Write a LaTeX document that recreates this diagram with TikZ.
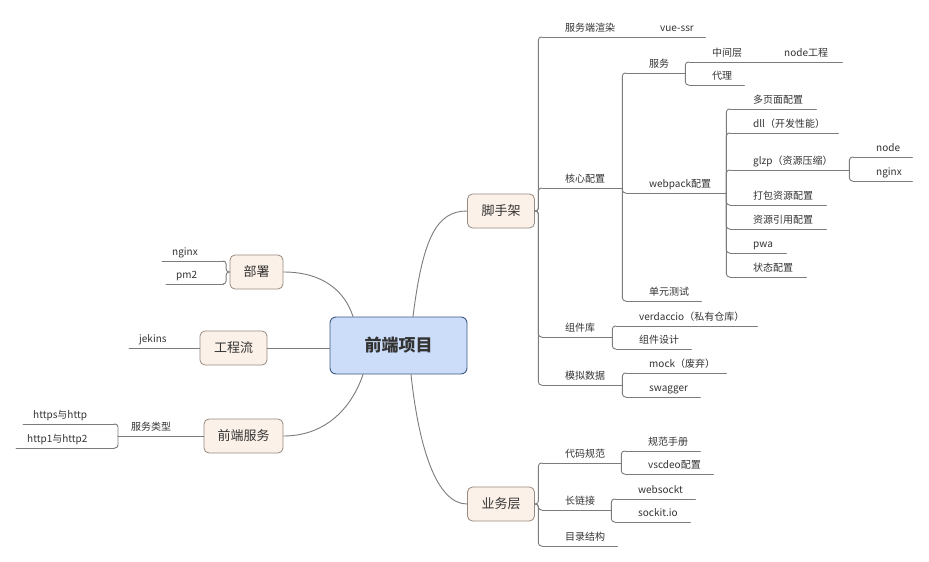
\documentclass[tikz,border=0pt]{standalone}
\usepackage{fontspec}
\setmainfont{Noto Sans CJK SC}
\definecolor{ink}{HTML}{333333}
\definecolor{wire}{HTML}{7C7C7C}
\definecolor{rootfill}{HTML}{CCDDFA}
\definecolor{rootedge}{HTML}{3E5A82}
\definecolor{boxfill}{HTML}{FCF1E8}
\definecolor{boxedge}{HTML}{978A80}

% a subtopic: text sitting on its own underline
% #1 text pad, #2 name, #3 line start x, #4 line end x, #5 line y, #6 text
\newcommand{\Sub}[6][23]{%
  \pgfmathsetmacro\SubW{#4-#3}
  \node[sub, text width=\SubW pt] (#2) at (#3,#5) {\hspace*{#1pt}\mbox{#6}};
  \draw[link] (#2.south west) -- (#2.south east);
}

\tikzset{
  link/.style={draw=wire, line width=0.9pt, rounded corners=3pt},
  sub/.style={anchor=south west, inner xsep=0pt, inner ysep=2.5pt,
    text height=8pt, text depth=2.5pt, align=left, text=ink,
    font=\fontsize{10}{12}\selectfont},
  topic/.style={draw=boxedge, fill=boxfill, line width=0.8pt,
    rounded corners=5pt, inner sep=0pt, minimum height=34pt, text=ink,
    font=\fontsize{13}{15}\selectfont},
  rootbox/.style={draw=rootedge, fill=rootfill, line width=0.9pt,
    rounded corners=6pt, inner sep=0pt, minimum width=137pt,
    minimum height=57pt, text=ink, font=\fontsize{17}{20}\selectfont\bfseries},
}

\begin{document}
\begin{tikzpicture}[x=1pt, y=-1pt, line join=round, line cap=round]

  \fill[white] (0,0) rectangle (929,562);
  \useasboundingbox (0,0) rectangle (929,562);

  % ---- centre and main topics ----------------------------------------------
  \node[rootbox] (root) at (398.5,345.5) {前端项目};
  \node[topic, minimum width=67pt] (jsj)  at (501,211)   {脚手架};
  \node[topic, minimum width=67pt] (ywc)  at (501,504)   {业务层};
  \node[topic, minimum width=53pt] (bs)   at (256.5,272) {部署};
  \node[topic, minimum width=67pt] (gcl)  at (233.5,348) {工程流};
  \node[topic, minimum width=79pt] (qdfw) at (243.5,436) {前端服务};

  \draw[link] ([xshift=14.5pt]root.north) .. controls +(10,-80) and +(-30,0) .. (jsj.west);
  \draw[link] ([xshift=12.5pt]root.south) .. controls +(8,75) and +(-30,0) .. (ywc.west);
  \draw[link] ([xshift=-45.5pt]root.north) .. controls +(-8,-25) and +(40,0) .. (bs.east);
  \draw[link] ([xshift=-35.5pt]root.south) .. controls +(-10,30) and +(45,0) .. (qdfw.east);
  \draw[link] (gcl.east) -- (gcl.east -| root.west);

  % ---- 脚手架 --------------------------------------------------------------
  \Sub{ssr}{542}{633}{37}{服务端渲染}
  \Sub{vuessr}{637}{705}{37}{vue-ssr}
  \Sub{hxpz}{542}{622}{188}{核心配置}
  \Sub{fw}{626}{685}{73}{服务}
  \Sub{zjc}{689}{757}{62}{中间层}
  \Sub{nodegc}{761}{842}{62}{node工程}
  \Sub{dl}{689}{744}{85}{代理}
  \Sub{wp}{626}{726}{193}{webpack配置}
  \Sub{dym}{730}{816}{109}{多页面配置}
  \Sub{dll}{730}{838}{133}{dll（开发性能）}
  \Sub{gzip}{730}{849}{170}{glzp（资源压缩）}
  \Sub{gznode}{853}{912}{157}{node}
  \Sub{gznginx}{853}{912}{181}{nginx}
  \Sub{dbzy}{730}{826}{205}{打包资源配置}
  \Sub{zyyy}{730}{826}{229}{资源引用配置}
  \Sub{pwa}{730}{786}{253}{pwa}
  \Sub{ztpz}{730}{806}{277}{状态配置}
  \Sub{dycs}{626}{701}{301}{单元测试}
  \Sub{zjk}{542}{612}{337}{组件库}
  \Sub{verd}{616}{757}{326}{verdaccio（私有仓库）}
  \Sub{zjsj}{616}{691}{349}{组件设计}
  \Sub{mnsj}{542}{622}{385}{模拟数据}
  \Sub{mock}{626}{726}{373}{mock（废弃）}
  \Sub{swg}{626}{700}{397}{swagger}

  \foreach \c in {ssr,hxpz,zjk,mnsj}
    \draw[link] (jsj.east) -- ++(3.5,0) |- (\c.south west);
  \draw[link] (ssr.south east) -- (vuessr.south west);
  \foreach \c in {fw,wp,dycs}
    \draw[link] (hxpz.south east) |- (\c.south west);
  \foreach \c in {zjc,dl}
    \draw[link] (fw.south east) |- (\c.south west);
  \draw[link] (zjc.south east) -- (nodegc.south west);
  \foreach \c in {dym,dll,gzip,dbzy,zyyy,pwa,ztpz}
    \draw[link] (wp.south east) |- (\c.south west);
  \foreach \c in {gznode,gznginx}
    \draw[link] (gzip.south east) |- (\c.south west);
  \foreach \c in {verd,zjsj}
    \draw[link] (zjk.south east) |- (\c.south west);
  \foreach \c in {mock,swg}
    \draw[link] (mnsj.south east) |- (\c.south west);

  % ---- 业务层 --------------------------------------------------------------
  \Sub{dmgf}{542}{621}{463}{代码规范}
  \Sub{gfsc}{625}{700}{451}{规范手册}
  \Sub{vsc}{625}{713}{474}{vscdeo配置}
  \Sub{clj}{542}{611}{510}{长链接}
  \Sub{ws}{615}{695}{499}{websockt}
  \Sub{sio}{615}{690}{522}{sockit.io}
  \Sub{mljg}{542}{617}{546}{目录结构}

  \foreach \c in {dmgf,clj,mljg}
    \draw[link] (ywc.east) -- ++(3.5,0) |- (\c.south west);
  \foreach \c in {gfsc,vsc}
    \draw[link] (dmgf.south east) |- (\c.south west);
  \foreach \c in {ws,sio}
    \draw[link] (clj.south east) |- (\c.south west);

  % ---- left side -----------------------------------------------------------
  \Sub[10]{bsnginx}{162}{223}{261}{nginx}
  \Sub[10]{pm2}{166}{223}{284}{pm2}
  \Sub[10]{jek}{129}{197}{348}{jekins}
  \Sub[13]{fwlx}{118}{201}{436}{服务类型}
  \Sub[10]{https}{23}{114}{424}{https与http}
  \Sub[11]{http2}{16}{114}{448}{http1与http2}

  \foreach \c in {bsnginx,pm2}
    \draw[link] (bs.west) -- ++(-3.5,0) |- (\c.south east);
  \draw[link] (gcl.west) -- (jek.south east);
  \draw[link] (qdfw.west) -- (fwlx.south east);
  \foreach \c in {https,http2}
    \draw[link] (fwlx.south west) |- (\c.south east);

\end{tikzpicture}
\end{document}
